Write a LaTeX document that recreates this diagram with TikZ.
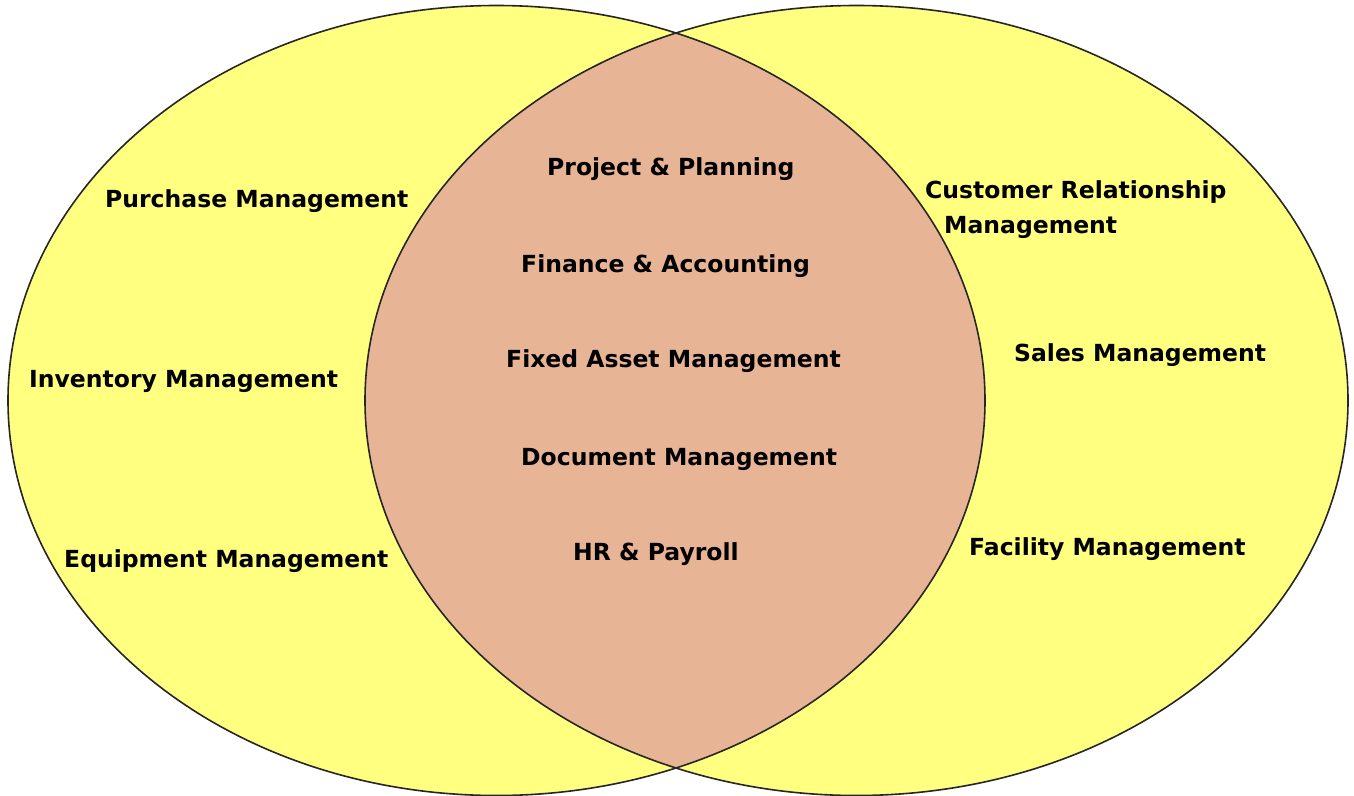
\documentclass[tikz,border=0pt]{standalone}
\usepackage{fontspec}
\newfontfamily\labfont{DejaVu Sans}
\definecolor{vyellow}{RGB}{255,255,128}
\definecolor{vsalmon}{RGB}{232,180,150}
\begin{document}
\begin{tikzpicture}[x=1pt,y=-1pt,
  lab/.style={anchor=base west,inner sep=0pt,font=\labfont\bfseries\fontsize{23.5}{35}\selectfont},
  outline/.style={draw=black!85,line width=1.6pt}]
\useasboundingbox (0,0) rectangle (1354,795);
\fill[white] (0,0) rectangle (1354,795);
% sets
\fill[vyellow] (496.5,400.5) ellipse [x radius=488.5,y radius=395];
\fill[vyellow] (856.5,400.5) ellipse [x radius=491.5,y radius=395];
\begin{scope}
  \clip (496.5,400.5) ellipse [x radius=488.5,y radius=395];
  \fill[vsalmon] (856.5,400.5) ellipse [x radius=491.5,y radius=395];
\end{scope}
\draw[outline] (496.5,400.5) ellipse [x radius=488.5,y radius=395];
\draw[outline] (856.5,400.5) ellipse [x radius=491.5,y radius=395];
% left only
\node[lab] (purch) at (105,207) {Purchase Management};
\node[lab] (inv) at (29,387) {Inventory Management};
\node[lab] (equip) at (64,567) {Equipment Management};
% intersection
\node[lab] (proj) at (547,175) {Project \& Planning};
\node[lab] (fin) at (521,272) {Finance \& Accounting};
\node[lab] (fixed) at (506,367) {Fixed Asset Management};
\node[lab] (doc) at (521,465) {Document Management};
\node[lab] (hr) at (573,560) {HR \& Payroll};
% right only
\node[lab,align=left] (crm) at (925,233) {Customer Relationship\\\hspace*{19pt}Management};
\node[lab] (sales) at (1014,361) {Sales Management};
\node[lab] (fac) at (969,555) {Facility Management};
\end{tikzpicture}
\end{document}
